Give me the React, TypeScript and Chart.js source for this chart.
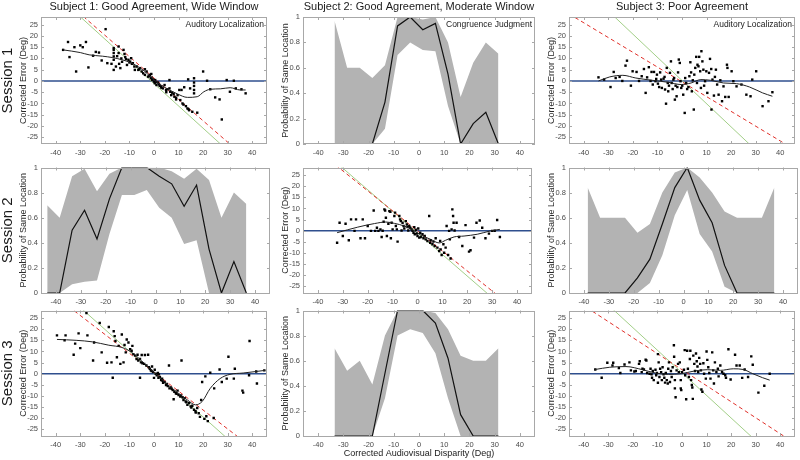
import React, { useEffect, useRef } from "react";
import { Chart, registerables } from "chart.js";

Chart.register(...registerables);
Chart.defaults.font.family = "'Liberation Sans', Arial, Helvetica, sans-serif";

type Pt = [number, number];

// ---------------- text ----------------
const COLUMN_TITLES = [
  "Subject 1: Good Agreement, Wide Window",
  "Subject 2: Good Agreement, Moderate Window",
  "Subject 3: Poor Agreement",
];
const SESSION_LABELS = ["Session 1", "Session 2", "Session 3"];
const X_TITLE = "Corrected Audiovisual Disparity (Deg)";
const ERR_TITLE = "Corrected Error (Deg)";
const PROB_TITLE = "Probability of Same Location";
const LOC_LABEL = "Auditory Localization";
const CONG_LABEL = "Congruence Judgment";

// ---------------- ticks ----------------
const X_TICKS = [-40, -30, -20, -10, 0, 10, 20, 30, 40];
const ERR_TICKS = [-25, -20, -15, -10, -5, 0, 5, 10, 15, 20, 25];
const PROB_TICKS = [0, 0.2, 0.4, 0.6, 0.8, 1];

// ---------------- Subject 1, Session 1 (localization) ----------------
const S1_SESS1_POINTS: Pt[] = [
  [-37, 13.8], [-35, 17.3], [-34.4, 10.6], [-32.4, 15], [-31.7, 4.2], [-30, 15.8], [-29, 15], [-27.7, 17.3],
  [-26.7, 6], [-24.8, 11.2], [-23.7, 12.9], [-22.4, 12.6], [-21.3, 9.1], [-19.7, 23], [-19, 7.9], [-17.3, 7.6],
  [-16.4, 14.6], [-16.4, 13.8], [-16.4, 12.4], [-16.4, 10.9], [-16.4, 9.4], [-16.4, 4.9], [-15.5, 6.4],
  [-14.4, 15.3], [-14.4, 12.4], [-14.2, 7.6], [-13.7, 5.7], [-13.3, 10], [-12.4, 13.8], [-12, 12], [-11.7, 10.6],
  [-11.4, 9.7], [-11, 7.1], [-10.4, 9.4], [-9.7, 8.6], [-9.3, 10.1], [-9, 7.6], [-8.6, 7.9], [-8, 6.4], [-7.8, 4.9],
  [-7, 6.4], [-6.4, 4.9], [-5.7, 5.7], [-5, 4.2], [-4.4, 3.4], [-3.7, 5.2], [-3.7, 2.7], [-3, 4.2], [-2.4, 1.9],
  [-1.7, 2.7], [-1.3, 1.2], [-1.1, 3.1], [-0.8, 0.4], [-0.4, 0.7], [0, -0.3], [0.3, -1], [0.5, 0.4], [1, -1.8],
  [1.6, -0.7], [2.3, -2.2], [2.9, -2.5], [3.6, -3.3], [4.3, -1.8], [4.9, -4], [5.5, -3.7], [6.3, -3.3], [6.3, 0.4],
  [6.6, -4.8], [7, -6.3], [7.4, -5.2], [8.3, -7], [9, -8.2], [9.6, -6.3], [10.3, -4], [10.7, -8.5], [11.2, -4],
  [11.6, -10], [12.3, -2.8], [13, -11.2], [13.6, -12.2], [13.9, 0.7], [14.3, -13], [14.7, -3.3], [15.6, -13.7],
  [16.3, 1.2], [16.3, -0.7], [16.3, -2.2], [16.3, -4], [16.3, -5.5], [17.6, -14.1], [20, 4.2], [21.6, 0.1],
  [22.9, -3.7], [24.9, -7.3], [26.7, -8.2], [27.6, -17.1], [29.6, 0.4], [30.9, -4.8], [32.5, 0.1], [33.3, -3.3],
  [35.6, -3.7], [37.3, -5.5], [-15, 11], [-13, 8.5], [-10, 8.2], [-6, 5.2], [-2, 2.2], [-1, 1.5], [0.8, -0.5],
  [2, -1.5], [3, -3], [5, -5], [8, -5.8], [9, -7.5], [12, -10.5], [14, -12.5],
];
const S1_SESS1_FIT: Pt[] = [
  [-37, 13.8], [-30, 12.6], [-26.4, 11.6], [-21, 11], [-17, 10.4], [-13, 9.4], [-9, 7.9], [-6, 6], [-3.7, 4.2],
  [0, 0.4], [4.3, -2.8], [9.6, -5.8], [13.6, -7.3], [17.6, -7], [20.3, -4.8], [22.9, -3.7], [27, -3.5], [31, -3],
  [35, -4], [37.3, -4],
];
const S1_SESS1_GREEN = [-0.99, -1.2]; // slope, intercept
const S1_SESS1_RED = [-0.95, 1.3];

// ---------------- Subject 2, Session 1 (congruence) ----------------
const S2_SESS1_X = [-33.5, -28.5, -23.5, -18.5, -13.5, -8.5, -3.5, 1.5, 6.5, 11.5, 16.5, 21.5, 26.5, 31.5];
const S2_SESS1_MEAN = [0, 0, 0, 0, 0.33, 0.93, 1, 0.9, 0.95, 0.55, 0, 0.16, 0.25, 0];
const S2_SESS1_HIGH = [0.97, 0.6, 0.6, 0.52, 0.62, 1, 1, 0.98, 1, 0.8, 0.37, 0.64, 0.8, 0.71];
const S2_SESS1_LOW = [0, 0, 0, 0, 0.12, 0.7, 0.8, 0.74, 0.73, 0.3, 0, 0, 0, 0];

// ---------------- Subject 3, Session 1 (localization) ----------------
const S3_SESS1_POINTS: Pt[] = [
  [-34, 1.6], [-31.7, 0.6], [-29.1, -2.7], [-27.8, 4], [-27, 1.3], [-25.4, 1.8], [-24.3, 0], [-23, 6.8],
  [-22.4, 9], [-20.8, -2.1], [-20.1, 4.3], [-18.5, 4], [-17.5, 0], [-16.4, 2.1], [-15.5, 5.3], [-14.8, -5.3],
  [-14.2, 1.6], [-13.5, 6.1], [-12.8, 0], [-12.4, 4], [-11.9, -1.6], [-11.4, 4], [-10.8, -0.1], [-10.5, 0.9],
  [-10.2, 2.8], [-9.8, -1.2], [-9.3, -2.7], [-8.9, 3.8], [-8.5, 0.6], [-8.2, -3.1], [-7.5, 1], [-7.1, 1.8],
  [-6.9, -3.8], [-6.5, -10.1], [-6.2, 5.8], [-5.8, -0.9], [-5.6, -4.6], [-5.3, -2.1], [-4.9, 3.6], [-4.5, 8.7],
  [-4.2, -0.9], [-3.8, -3.6], [-3.5, 0.6], [-3.2, 1.3], [-2.9, -8.3], [-2.6, -2.1], [-2.2, -6.8], [-1.9, -2.7],
  [-1.6, 3.8], [-1.3, 9.5], [-0.9, 8], [-0.6, -0.1], [-0.3, -3.1], [0.1, -2.1], [0.5, -6.1], [1.1, -14.2],
  [1.3, 1.3], [1.7, -0.9], [2.1, -3.6], [2.6, -2.7], [3, 2.1], [3.4, 8.3], [3.7, 3.8], [4, -4.6], [4.4, 0.3],
  [4.8, -12.7], [5, 2.8], [5.4, 5.8], [5.8, 10.7], [6.1, -0.9], [6.3, 7.2], [6.7, 6.5], [7, 10.7], [7.4, 4.3],
  [7.7, -3.1], [7.9, 13.2], [8.3, 8.7], [8.7, 5], [9, -2.1], [9.4, -0.1], [9.9, 4.3], [10.3, -5.3], [11, 3.6],
  [11.4, 9.8], [11.9, 5.3], [12, -12.7], [12.4, 0.6], [13, -6.5], [13.4, 1.8], [13.8, 5], [14.3, -1.6],
  [14.9, -6.1], [15.6, 0.3], [16.3, -9], [16.9, -2.4], [17.6, -7.1], [18.3, 7.2], [18.5, 5.8], [19, -7.1],
  [20.2, 4.3], [20.9, -0.1], [22.2, -2.4], [24.2, -1.6], [26.2, -6.1], [27.9, -6.8], [28.6, 0.6], [30.2, 4.3],
  [32.8, -11.2], [35.2, -9], [36.8, -5],
];
const S3_SESS1_FIT: Pt[] = [
  [-34, 0], [-29.4, 1.8], [-24.1, 2.5], [-18.8, 1.3], [-12.2, 0.3], [-5.6, -0.6], [-0.3, -1.6], [3.7, -0.9],
  [7.7, 0.6], [11.6, 0.3], [16.9, -0.9], [22.2, -1.2], [27.5, -2.7], [32.8, -5.3], [36.8, -6.8],
];
const S3_SESS1_GREEN = [-1.03, 0.2];
const S3_SESS1_RED = [-0.656, -0.4];

// ---------------- Subject 1, Session 2 (congruence) ----------------
const S1_SESS2_X = [-43.5, -38.5, -33.5, -28.5, -23.5, -18.5, -13.5, -8.5, -3.5, 1.5, 6.5, 11.5, 16.5, 21.5, 26.5, 31.5, 36.5];
const S1_SESS2_MEAN = [0, 0, 0.5, 0.66, 0.43, 0.75, 1, 1, 1, 0.93, 0.87, 0.69, 0.86, 0.35, 0, 0.25, 0];
const S1_SESS2_HIGH = [0.7, 0.6, 0.93, 0.99, 0.81, 0.95, 1, 1, 1, 1, 0.97, 0.91, 0.99, 0.9, 0.6, 0.8, 0.71];
const S1_SESS2_LOW = [0, 0, 0.07, 0.09, 0.1, 0.47, 0.78, 0.78, 0.82, 0.68, 0.6, 0.39, 0.42, 0, 0, 0, 0];

// ---------------- Subject 2, Session 2 (localization) ----------------
const S2_SESS2_POINTS: Pt[] = [
  [-32.3, -5.4], [-31.3, 3.6], [-30, -2.4], [-28.9, 3.1], [-27.6, -4.3], [-26.7, 5.1], [-25.3, -0.1], [-24.7, 5.1],
  [-22.9, -3.4], [-22, 5.1], [-21.1, -3.4], [-20, 2.1], [-18.7, -0.1], [-17.6, 9.1], [-17, -0.1], [-16.3, 1.3],
  [-15.7, -0.1], [-14.9, 0.6], [-14.4, -2.8], [-14, 0], [-13.6, 4], [-13.3, 9.6], [-13, 9.1], [-12.7, 5.8],
  [-12.3, -2.4], [-11.7, 3.1], [-11.3, 8.8], [-10.9, 8.5], [-10.7, -3.4], [-10.4, 3.6], [-10, 0.6], [-9.3, 6.6],
  [-9, 8.1], [-8.7, 2.1], [-8.3, 0.6], [-8, -4.9], [-7.3, 6.6], [-7, 5.1], [-6.7, 4.3], [-6.4, 0.1], [-6, 3.6],
  [-5.6, 2.1], [-5.3, 1], [-4.7, 4.3], [-4.3, 2.8], [-4, 1.6], [-3.7, 0.1], [-3.3, 2.1], [-2.9, 1.3], [-2.4, 0.6],
  [-2, -0.1], [-1.6, -0.9], [-1.3, 1.6], [-1.1, -1.6], [-0.7, 0.4], [-0.3, -1.3], [0, -2.4], [0.3, 1], [0.7, -3.1],
  [1.1, -0.9], [1.3, -2.8], [2, -1.6], [2.4, -3.4], [2.9, -2.4], [3.3, -3.9], [4, -4.6], [4.7, 6.6], [5.1, -5.4],
  [5.3, -4.3], [6, -6.1], [6.4, -4.9], [6.9, -6.9], [7.3, -3.4], [8, -7.6], [8.7, -9.1], [9.1, -4.6], [9.3, -8.4],
  [9.7, -10.9], [10.4, -6.1], [10.7, -9.9], [11.3, -7.6], [11.7, 2.1], [12.3, -10.9], [12.7, -0.1], [13, -3.9],
  [13.3, -12.5], [13.7, 0.6], [14, 9.6], [14.3, 6.6], [14.5, 3.6], [14.9, 0.1], [15.7, 3.6], [16.7, -2.8],
  [18, -6.9], [19.3, 2.5], [20.7, -9.4], [21.3, -8.8], [22.7, -3.1], [23.7, 3.6], [25, 4.6], [26, 1.3],
  [27.3, -3.4], [28.7, -1.3], [30, -0.1], [31, 0], [32, 4.8], [33.1, -2.8],
];
const S2_SESS2_FIT: Pt[] = [
  [-32.3, -0.9], [-24, 1.6], [-17.3, 3.2], [-12.7, 3.9], [-9.3, 3.3], [-5.3, 2.1], [-1.6, 0.1], [1.3, -1.9],
  [5.3, -3.9], [8.7, -5.5], [11.3, -4.3], [14.7, -2.8], [18.7, -2.4], [24, -1.6], [29.3, -0.1], [33.1, 0.6],
];
const S2_SESS2_GREEN = [-0.97, -1];
const S2_SESS2_RED = [-0.9, -0.1];

// ---------------- Subject 3, Session 2 (congruence) ----------------
const S3_SESS2_X = [-38.5, -33.5, -28.5, -23.5, -18.5, -13.5, -8.5, -3.5, 1.5, 6.5, 11.5, 16.5, 21.5, 26.5, 31.5, 36.5];
const S3_SESS2_MEAN = [0, 0, 0, 0, 0.12, 0.27, 0.55, 0.84, 1, 0.74, 0.56, 0.22, 0, 0, 0, 0];
const S3_SESS2_HIGH = [0.84, 0.6, 0.6, 0.6, 0.48, 0.55, 0.8, 0.96, 1, 0.92, 0.8, 0.65, 0.6, 0.6, 0.6, 0.84];
const S3_SESS2_LOW = [0, 0, 0, 0, 0, 0.08, 0.3, 0.62, 0.82, 0.47, 0.33, 0.05, 0, 0, 0, 0];

// ---------------- Subject 1, Session 3 (localization) ----------------
const S1_SESS3_POINTS: Pt[] = [
  [-39.5, 17.2], [-36.4, 15], [-36, 17.2], [-32.7, 8.5], [-32.1, 13.5], [-30.7, 18.1], [-30, 11.5], [-27.5, 27.2],
  [-27.1, 17.2], [-24.8, 5.9], [-24.4, 14], [-22.1, 22.8], [-21.3, 9.6], [-19.1, 4.9], [-18.4, 21], [-17.3, 5.1],
  [-16.8, -1.8], [-16.4, 19.1], [-16, 16.9], [-15.7, 14.7], [-15.1, 7.4], [-14.4, 12.5], [-13.7, 4.4],
  [-13.1, 17.6], [-12.4, 5.1], [-12, 12.9], [-11.5, 9.6], [-11.1, 15.4], [-10.4, 14], [-9.7, 11], [-9.1, 10.3],
  [-8.8, 12.5], [-8.4, 8.8], [-7.7, 8.1], [-7.1, 6.6], [-6.7, 8.5], [-6.4, 5.9], [-5.7, 6.6], [-5.7, -1.8],
  [-5.3, 5.1], [-5, 8.4], [-4.7, 4.7], [-4, 4.4], [-3.7, 8.4], [-3.1, 3.7], [-2.4, 8.5], [-2.1, 2.9], [-1.7, 2.2],
  [-1.3, 1.5], [-0.8, 3.2], [-0.4, 0.7], [0, -1.9], [0.3, 1.8], [0.7, 0], [1.1, -0.7], [1.6, 0.3], [2, -0.3],
  [2.4, -1.5], [2.9, -2.9], [3.3, -2.2], [3.7, -4.1], [4.3, -3.7], [4.9, -5.1], [5.6, -5.6], [6.1, 3.7],
  [6.3, -6.6], [6.9, -6.2], [7.6, -7.4], [8, -11.5], [8.3, -8.1], [8.9, -8.8], [9.6, -7.6], [10, -9.6],
  [10.7, -10.3], [11.2, 5.9], [11.6, -10.6], [12, -11.8], [12.5, -11], [12.9, -12.5], [13.6, -14], [14.3, -13.2],
  [14.9, -14.7], [15.6, -14.4], [16.3, -16.2], [16.9, -16.9], [17.6, -15.4], [18.7, -19.4], [19.2, -11.8],
  [19.6, -3.7], [20.9, -1.2], [21.3, -19.1], [21.9, -21.3], [22.9, 0.4], [24.3, -19.9], [24.5, -6.6], [26.7, 1.9],
  [27.6, -3.7], [29.6, -2.2], [30.3, 7.6], [32.5, -2.2], [32.9, 2.2], [36, -7.6], [36.3, -8.5], [38.7, -0.7],
  [38.9, 14.7], [41.6, 1], [41.9, -4.4], [44.9, 1.5], [-1, 1.2], [1.8, -1.8], [3.5, -3.2], [5.2, -4.6],
  [7.2, -6.8], [9.2, -9], [11, -9.8], [13.2, -12.8], [15.2, -15.2], [17, -17.5], [18.2, -17.8], [20.5, -20.3],
];
const S1_SESS3_FIT: Pt[] = [
  [-39.5, 15.4], [-31.7, 15], [-25, 14.3], [-18.4, 12.8], [-13.1, 11.8], [-9.1, 9.6], [-3.7, 4.4], [0.3, 0.3],
  [4.3, -3.7], [9.6, -8.5], [13.6, -11.8], [16.9, -14], [19.6, -12.5], [22.9, -6.6], [26.9, -2.2], [30.9, -0.3],
  [36.3, 0.3], [41.6, 1], [45.3, 1.5],
];
const S1_SESS3_GREEN = [-0.984, 0.25];
const S1_SESS3_RED = [-0.85, 0.66];

// ---------------- Subject 2, Session 3 (congruence) ----------------
const S2_SESS3_X = [-33.5, -28.5, -23.5, -18.5, -13.5, -8.5, -3.5, 1.5, 6.5, 11.5, 16.5, 21.5, 26.5, 31.5];
const S2_SESS3_MEAN = [0, 0, 0, 0, 0.5, 1, 1, 1, 0.9, 0.62, 0.17, 0, 0, 0];
const S2_SESS3_HIGH = [0.7, 0.52, 0.6, 0.41, 0.8, 1, 1, 1, 0.98, 0.85, 0.64, 0.6, 0.6, 0.7];
const S2_SESS3_LOW = [0, 0, 0, 0, 0.3, 0.8, 0.85, 0.82, 0.66, 0.3, 0, 0, 0, 0];

// ---------------- Subject 3, Session 3 (localization) ----------------
const S3_SESS3_POINTS: Pt[] = [
  [-35.3, 1.9], [-32.7, -1.8], [-30.4, 4.9], [-28.3, 3.7], [-28, 4.9], [-25.7, 2.5], [-25.1, 0.3], [-23.4, 4.1],
  [-21.4, 5.1], [-20.8, 1.5], [-19.4, 1], [-18.8, 1.2], [-17.5, 4.4], [-17.2, 5.6], [-16.4, 0.7], [-16.1, 2.2],
  [-15.5, 1.9], [-14.8, 6.3], [-14.5, 5.9], [-14.2, 0.3], [-13.2, 0], [-12.8, 2.2], [-12.4, -0.3], [-12.2, -1.8],
  [-11.9, 1.2], [-11.5, -2.9], [-10.8, 1.8], [-10.5, -0.7], [-10.2, 0.3], [-9.8, 8.8], [-9.8, -4.1], [-9.5, 5.1],
  [-9.2, -1.5], [-8.9, 2.2], [-8.5, 0.7], [-8.2, -2.9], [-7.9, 2.9], [-7.5, -0.3], [-7.2, -1.8], [-6.9, -4],
  [-6.6, 0.3], [-6.2, -2.9], [-5.8, -4.4], [-5.6, 2.2], [-5.3, 5.1], [-4.9, -3.7], [-4.5, 1.2], [-4.2, -1.5],
  [-3.8, 2.9], [-3.3, 12.8], [-3.2, 7.6], [-2.9, -6.6], [-2.9, -2.9], [-2.6, -10.6], [-2.2, 1.5], [-1.6, 4.4],
  [-1.3, 0.7], [-0.9, 5.1], [-0.5, -2.9], [-0.5, -6.6], [-0.3, -7.4], [0, 0.7], [0.8, 1.8], [1.1, 10.6],
  [1.3, -0.7], [1.7, -11.5], [2.1, 10.3], [2.4, 2.2], [2.8, -1.5], [3.2, 6.6], [3.4, 10.3], [3.7, -2.9], [4, -5.1],
  [4.2, -6.2], [4.4, -11.3], [4.6, 8.1], [5, 4.4], [5.3, 1.2], [5.7, 9.1], [6, 5.6], [6.3, 3.2], [6.6, 0.7],
  [7, 7.1], [7.4, 4.4], [7.7, 1.5], [7.9, -7.1], [8.3, -8.1], [8.7, 4.7], [9, 0], [9.7, -2.2], [10, 10], [10.3, 6.2],
  [10.7, 2.9], [11.1, 0.3], [11.6, -2.2], [12.3, 9.6], [12.7, 1.5], [13, -4.4], [13.4, 5.1], [14, 0.7], [14.6, 2.2],
  [14.9, -1.2], [15.6, 3.7], [16.3, 0.7], [16.9, 0], [17.6, -0.7], [17.9, -1.8], [18.9, 11], [19.8, -2.6],
  [21.6, 8.5], [22.2, 3.7], [23.5, 3.7], [24.5, -1.9], [25.5, 1.9], [26.9, -1.5], [28.2, 7.8], [28.8, 4],
  [31.1, -8.5], [33.5, -5.4], [35.7, 0],
];
const S3_SESS3_FIT: Pt[] = [
  [-35.3, 1.9], [-29.4, 2.9], [-22.8, 3.2], [-16.1, 1.8], [-10.8, 0.3], [-5.6, -0.3], [-0.3, 0], [5, 1.2],
  [10.3, 1.8], [15.6, 1.5], [20.9, 2.2], [24.9, 1.9], [28.8, 0], [32.8, -1.8], [35.7, -2.9],
];
const S3_SESS3_GREEN = [-1.015, 0.4];
const S3_SESS3_RED = [-0.72, 1.8];

// ---------------- layout (positions/styles) ----------------
const PLOT_LEFT = [41, 303, 569];
const PLOT_RIGHT = [270, 535, 798];
const PLOT_TOP = [17, 166, 309];
const PLOT_BOTTOM = [144, 293, 436];
const Y_AXIS_W = 30;
const SESSION_W = 11;
const X_MIN = -46;
const X_MAX = 46;
const ERR_MIN = -28;
const ERR_MAX = 28.4;

const FONT_TICK = 7.5;
const TICK_COLOR = "#4a4a4a";
const TEXT_COLOR = "#1a1a1a";
const FRAME_COLOR = "#a8a8a8";
const BAND_COLOR = "#b3b3b3";
const BLUE = "#2f4f8e";
const RED = "#e0302a";
const GREEN = "#a3cf88";

type Spec = {
  row: number;
  col: number;
  kind: "err" | "prob";
  points?: Pt[];
  fit?: Pt[];
  green?: number[];
  red?: number[];
  px?: number[];
  mean?: number[];
  hi?: number[];
  lo?: number[];
  label?: string;
};

const PANELS: Spec[] = [
  { row: 0, col: 0, kind: "err", points: S1_SESS1_POINTS, fit: S1_SESS1_FIT, green: S1_SESS1_GREEN, red: S1_SESS1_RED, label: LOC_LABEL },
  { row: 0, col: 1, kind: "prob", px: S2_SESS1_X, mean: S2_SESS1_MEAN, hi: S2_SESS1_HIGH, lo: S2_SESS1_LOW, label: CONG_LABEL },
  { row: 0, col: 2, kind: "err", points: S3_SESS1_POINTS, fit: S3_SESS1_FIT, green: S3_SESS1_GREEN, red: S3_SESS1_RED, label: LOC_LABEL },
  { row: 1, col: 0, kind: "prob", px: S1_SESS2_X, mean: S1_SESS2_MEAN, hi: S1_SESS2_HIGH, lo: S1_SESS2_LOW },
  { row: 1, col: 1, kind: "err", points: S2_SESS2_POINTS, fit: S2_SESS2_FIT, green: S2_SESS2_GREEN, red: S2_SESS2_RED },
  { row: 1, col: 2, kind: "prob", px: S3_SESS2_X, mean: S3_SESS2_MEAN, hi: S3_SESS2_HIGH, lo: S3_SESS2_LOW },
  { row: 2, col: 0, kind: "err", points: S1_SESS3_POINTS, fit: S1_SESS3_FIT, green: S1_SESS3_GREEN, red: S1_SESS3_RED },
  { row: 2, col: 1, kind: "prob", px: S2_SESS3_X, mean: S2_SESS3_MEAN, hi: S2_SESS3_HIGH, lo: S2_SESS3_LOW },
  { row: 2, col: 2, kind: "err", points: S3_SESS3_POINTS, fit: S3_SESS3_FIT, green: S3_SESS3_GREEN, red: S3_SESS3_RED },
];

function geometry(row: number, col: number) {
  const left = col === 0 ? 0 : PLOT_LEFT[col] - Y_AXIS_W;
  const right = PLOT_RIGHT[col] + 1;
  const top = row === 0 ? 0 : PLOT_TOP[row] - 6;
  const bottom = row === 2 ? 460 : PLOT_BOTTOM[row] + 16;
  return { left, top, w: right - left, h: bottom - top, xAxisH: bottom - PLOT_BOTTOM[row], padTop: row === 0 ? 0 : 6 };
}

const framePlugin = {
  id: "frame",
  afterDraw(chart: any, _args: any, opts: any) {
    const { ctx, chartArea: a, scales } = chart;
    ctx.save();
    ctx.strokeStyle = FRAME_COLOR;
    ctx.lineWidth = 1;
    ctx.strokeRect(Math.round(a.left) + 0.5, Math.round(a.top) + 0.5, Math.round(a.width) - 1, Math.round(a.height) - 1);
    ctx.beginPath();
    const xs = scales.x;
    const ys = scales.y;
    xs.ticks.forEach((t: any) => {
      const p = Math.round(xs.getPixelForValue(t.value)) + 0.5;
      ctx.moveTo(p, a.bottom);
      ctx.lineTo(p, a.bottom - 3);
      ctx.moveTo(p, a.top);
      ctx.lineTo(p, a.top + 3);
    });
    ys.ticks.forEach((t: any) => {
      const p = Math.round(ys.getPixelForValue(t.value)) + 0.5;
      ctx.moveTo(a.left, p);
      ctx.lineTo(a.left + 3, p);
      ctx.moveTo(a.right, p);
      ctx.lineTo(a.right - 3, p);
    });
    ctx.stroke();
    if (opts && opts.label) {
      ctx.font = "8.5px 'Liberation Sans', Arial, sans-serif";
      ctx.fillStyle = TEXT_COLOR;
      ctx.textAlign = "right";
      ctx.textBaseline = "middle";
      ctx.fillText(opts.label, a.right - 3, a.top + 8);
    }
    ctx.restore();
  },
};

function toXY(xs: number[], ys: number[]) {
  return xs.map((x, i) => ({ x, y: ys[i] }));
}

function makeConfig(spec: Spec): any {
  const g = geometry(spec.row, spec.col);
  const isErr = spec.kind === "err";
  const datasets: any[] = [];
  if (isErr) {
    const line = (p: number[]) => [X_MIN, X_MAX].map((x) => ({ x, y: p[0] * x + p[1] }));
    datasets.push({
      data: spec.fit!.map(([x, y]) => ({ x, y })),
      borderColor: "#222",
      borderWidth: 1,
      pointRadius: 0,
      cubicInterpolationMode: "monotone",
      fill: false,
    });
    datasets.push({
      data: spec.points!.map(([x, y]) => ({ x, y })),
      showLine: false,
      pointStyle: "rect",
      pointRadius: 1.7,
      pointBackgroundColor: "#000",
      pointBorderWidth: 0,
    });
    datasets.push({ data: line(spec.red!), borderColor: RED, borderDash: [4, 3], borderWidth: 1, pointRadius: 0, fill: false });
    datasets.push({ data: line(spec.green!), borderColor: GREEN, borderWidth: 1, pointRadius: 0, fill: false });
    datasets.push({ data: [{ x: X_MIN, y: 0 }, { x: X_MAX, y: 0 }], borderColor: BLUE, borderWidth: 1.5, pointRadius: 0, fill: false });
  } else {
    datasets.push({ data: toXY(spec.px!, spec.mean!), borderColor: "#111", borderWidth: 1.2, pointRadius: 0, tension: 0, fill: false });
    datasets.push({
      data: toXY(spec.px!, spec.hi!),
      borderColor: "rgba(0,0,0,0)",
      borderWidth: 0,
      pointRadius: 0,
      tension: 0,
      backgroundColor: BAND_COLOR,
      fill: "+1",
    });
    datasets.push({ data: toXY(spec.px!, spec.lo!), borderColor: "rgba(0,0,0,0)", borderWidth: 0, pointRadius: 0, tension: 0, fill: false });
  }

  const scales: any = {
    x: {
      type: "linear",
      position: "bottom",
      min: X_MIN,
      max: X_MAX,
      afterBuildTicks: (s: any) => {
        s.ticks = X_TICKS.map((v) => ({ value: v }));
      },
      afterFit: (s: any) => {
        s.height = g.xAxisH;
      },
      grid: { display: false, drawTicks: false },
      border: { display: false },
      ticks: { font: { size: FONT_TICK }, color: TICK_COLOR, padding: 4.5, autoSkip: false, maxRotation: 0, callback: (v: any) => String(v) },
      title:
        spec.row === 2 && spec.col === 1
          ? { display: true, text: X_TITLE, font: { size: 9 }, color: TEXT_COLOR, padding: { top: 0, bottom: 0.6 } }
          : { display: false },
    },
    y: {
      type: "linear",
      position: "left",
      min: isErr ? ERR_MIN : 0,
      max: isErr ? ERR_MAX : 1,
      afterBuildTicks: (s: any) => {
        s.ticks = (isErr ? ERR_TICKS : PROB_TICKS).map((v) => ({ value: v }));
      },
      afterFit: (s: any) => {
        s.width = Y_AXIS_W;
      },
      grid: { display: false, drawTicks: false },
      border: { display: false },
      ticks: { font: { size: FONT_TICK }, color: TICK_COLOR, padding: 3, autoSkip: false, callback: (v: any) => String(v) },
      title: {
        display: true,
        text: isErr ? ERR_TITLE : PROB_TITLE,
        font: { size: 9 },
        color: "#2a2a2a",
        padding: { top: 7.6, bottom: 0 },
      },
    },
  };
  if (spec.col === 0) {
    scales.session = {
      type: "linear",
      position: "left",
      weight: 10,
      display: true,
      afterFit: (s: any) => {
        s.width = SESSION_W;
      },
      grid: { display: false, drawTicks: false },
      border: { display: false },
      ticks: { display: false },
      title: {
        display: true,
        text: SESSION_LABELS[spec.row],
        font: { size: 15, lineHeight: 1 },
        color: TEXT_COLOR,
        padding: { top: 0, bottom: 0 },
      },
    };
  }

  return {
    type: "line",
    data: { datasets: datasets.map((d) => ({ ...d, xAxisID: "x", yAxisID: "y" })) },
    plugins: [framePlugin],
    options: {
      responsive: false,
      maintainAspectRatio: false,
      animation: false,
      events: [],
      layout: { padding: { top: g.padTop, right: 1, left: 0, bottom: 0 } },
      plugins: {
        legend: { display: false },
        tooltip: { enabled: false },
        title:
          spec.row === 0
            ? {
                display: true,
                text: COLUMN_TITLES[spec.col],
                fullSize: false,
                font: { size: 11, weight: "normal", lineHeight: 1.2 },
                color: TEXT_COLOR,
                padding: { top: 0, bottom: 3.8 },
              }
            : { display: false },
        frame: { label: spec.label || "" },
      },
      scales,
    },
  };
}

function Panel({ spec }: { spec: Spec }) {
  const ref = useRef<HTMLCanvasElement | null>(null);
  const g = geometry(spec.row, spec.col);
  useEffect(() => {
    if (!ref.current) return;
    const chart = new Chart(ref.current, makeConfig(spec));
    return () => chart.destroy();
  }, [spec]);
  return (
    <canvas
      ref={ref}
      width={g.w}
      height={g.h}
      style={{ position: "absolute", left: g.left, top: g.top, width: g.w, height: g.h }}
    />
  );
}

export default function App() {
  return (
    <div style={{ position: "absolute", left: 0, top: 0, width: 800, height: 460, background: "#fff", overflow: "hidden" }}>
      {PANELS.map((p, i) => (
        <Panel key={i} spec={p} />
      ))}
    </div>
  );
}
